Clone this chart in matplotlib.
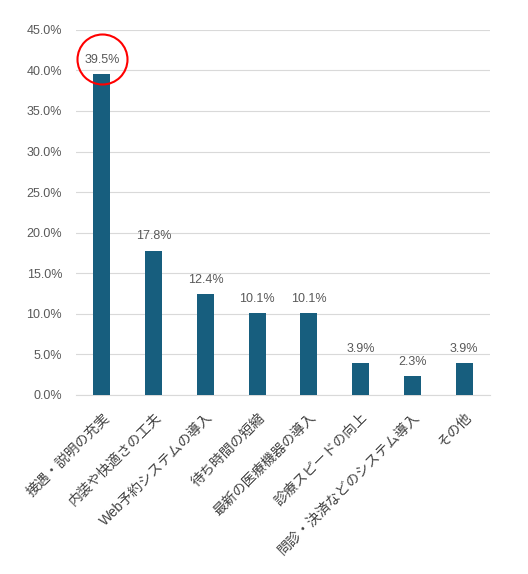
import matplotlib
matplotlib.use("Agg")
import matplotlib.pyplot as plt
import numpy as np

plt.rcParams["font.family"] = ["Liberation Sans", "Noto Sans CJK JP", "DejaVu Sans"]

categories = [
    "接遇・説明の充実",
    "内装や快適さの工夫",
    "Web予約システムの導入",
    "待ち時間の短縮",
    "最新の医療機器の導入",
    "診療スピードの向上",
    "問診・決済などのシステム導入",
    "その他",
]
values = [39.5, 17.8, 12.4, 10.1, 10.1, 3.9, 2.3, 3.9]
yticks = [0, 5, 10, 15, 20, 25, 30, 35, 40, 45]

BAR = "#175e7e"
GREY = "#595959"

fig = plt.figure(figsize=(5.28, 5.74), dpi=100)
ax = fig.add_axes([0.144, 0.312, 0.784, 0.636])

x = np.arange(len(categories))
ax.bar(x, values, width=0.33, color=BAR, zorder=3)
for xi, v in zip(x, values):
    ax.text(xi, v + 1.0, f"{v:.1f}%", ha="center", va="bottom", fontsize=9, color=GREY)

ax.set_ylim(0, 45)
ax.set_xlim(-0.5, len(categories) - 0.5)
ax.set_yticks(yticks)
ax.set_yticklabels([f"{t:.1f}%" for t in yticks], fontsize=9, color=GREY)
ax.set_xticks(x)
ax.set_xticklabels(categories, rotation=45, ha="right", rotation_mode="anchor",
                   fontsize=10, color="#404040")
ax.tick_params(axis="both", length=0)
ax.tick_params(axis="y", pad=10)
ax.tick_params(axis="x", pad=11)
ax.grid(axis="y", color="#d9d9d9", linewidth=0.8, zorder=0)
for s in ["top", "right", "left"]:
    ax.spines[s].set_visible(False)
ax.spines["bottom"].set_color("#d9d9d9")

# highlight circle around the top value
ax.plot(0, 41.4, "o", ms=36, mfc="none", mec="#ff0000", mew=1.5, clip_on=False, zorder=4)

fig.savefig("out.png", dpi=100)
